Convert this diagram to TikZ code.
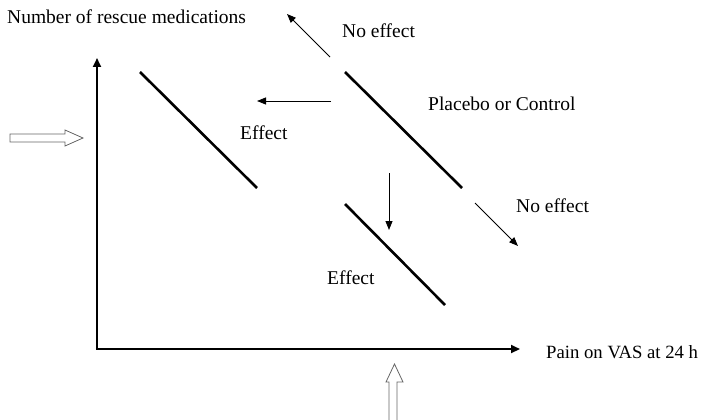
\documentclass[tikz,border=0pt]{standalone}
\usepackage{fontspec}
\setmainfont{Liberation Serif}
\usetikzlibrary{arrows.meta}
\begin{document}
\begin{tikzpicture}[x=1pt,y=-1pt,
  axis/.style={line width=2.2pt,-{Triangle[length=9pt,width=8pt]}},
  trend/.style={line width=2.6pt},
  movearrow/.style={line width=0.9pt,-{Triangle[length=9pt,width=7pt]}},
  hollow/.style={draw=gray!80!black,line width=0.8pt,fill=white},
  lbl/.style={font=\fontsize{19.5}{22}\selectfont,inner sep=0pt,anchor=west}]
\useasboundingbox (0,0) rectangle (707,420);
% axes
\coordinate (O) at (97,349);
\coordinate (Ytop) at (97,58);
\coordinate (Xend) at (520,349);
\draw[axis] (O) -- (Ytop);
\draw[axis] ([xshift=-1.1pt]O) -- (Xend);
% labels
\node[lbl] (ylab) at (7,17) {Number of rescue medications};
\node[lbl,font=\fontsize{18.7}{22}\selectfont] (xlab) at (546,352) {Pain on VAS at 24 h};
\node[lbl] (ne1) at (342,31) {No effect};
\node[lbl] (pc) at (428,104) {Placebo or Control};
\node[lbl] (ef1) at (240,133) {Effect};
\node[lbl] (ne2) at (516,206) {No effect};
\node[lbl] (ef2) at (327,278) {Effect};
% trend lines
\coordinate (pa) at (345,72); \coordinate (pb) at (462,188);
\coordinate (ea) at (140,72); \coordinate (eb) at (257,188);
\coordinate (da) at (345,204); \coordinate (db) at (445,305);
\draw[trend] (pa) -- (pb);
\draw[trend] (ea) -- (eb);
\draw[trend] (da) -- (db);
% shift arrows
\coordinate (s1a) at (330,57); \coordinate (s1b) at (287,14);
\coordinate (s2a) at (331,101); \coordinate (s2b) at (257,101);
\coordinate (s3a) at (389,173); \coordinate (s3b) at (389,230);
\coordinate (s4a) at (475,203); \coordinate (s4b) at (518,246);
\draw[movearrow] (s1a) -- (s1b);
\draw[movearrow] (s2a) -- (s2b);
\draw[movearrow] (s3a) -- (s3b);
\draw[movearrow] (s4a) -- (s4b);
% hollow arrows
\draw[hollow] (10,134) -- (65,134) -- (65,130) -- (83,138) -- (65,146) -- (65,142) -- (10,142) -- cycle;
\draw[hollow] (389,421) -- (389,382) -- (386,382) -- (394.5,364) -- (403,382) -- (397,382) -- (397,421);
\end{tikzpicture}
\end{document}
